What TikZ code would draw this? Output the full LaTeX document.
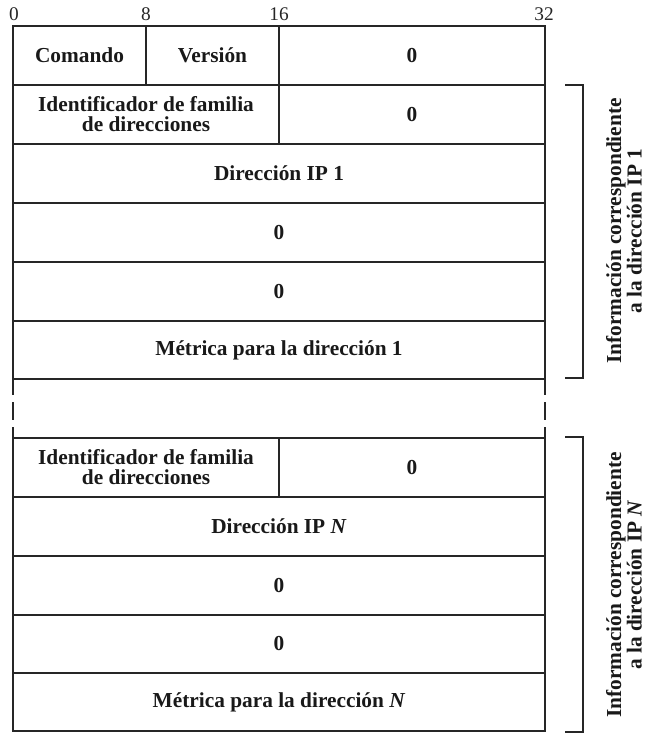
\documentclass[tikz,border=0pt]{standalone}
\usepackage{fontspec}
\setmainfont{Liberation Serif}
\begin{document}
\begin{tikzpicture}[x=0.75pt,y=-0.75pt,
  frame/.style={line width=1.3pt,draw=black!85},
  fieldtext/.style={font=\fontsize{16}{15}\selectfont\bfseries,text=black!90,align=center,inner sep=0pt},
  bitnum/.style={font=\fontsize{14.5}{15}\selectfont,text=black!85,anchor=base,inner sep=0pt},
  sidelabel/.style={font=\fontsize{16}{15.5}\selectfont\bfseries,text=black!90,align=center,rotate=90,inner sep=0pt}]
\useasboundingbox (0,0) rectangle (652,739);
% bit positions
\node[bitnum] (b0) at (14,20) {0};
\node[bitnum] (b8) at (146,20) {8};
\node[bitnum] (b16) at (279,20) {16};
\node[bitnum] (b32) at (544,20) {32};
% section 1 frame
\draw[frame] (13,26) rectangle (545,379);
\foreach \y in {85,144,203,262,321} \draw[frame] (13,\y) -- (545,\y);
\draw[frame] (146,26) -- (146,85);
\draw[frame] (279,26) -- (279,144);
% dashed continuation
\foreach \x in {13,545} {
  \draw[frame] (\x,379) -- (\x,395);
  \draw[frame] (\x,402) -- (\x,420);
  \draw[frame] (\x,427) -- (\x,438);
}
% section 2 frame
\draw[frame] (13,438) rectangle (545,731);
\foreach \y in {497,556,615,673} \draw[frame] (13,\y) -- (545,\y);
\draw[frame] (279,438) -- (279,497);
% section 1 texts
\node[fieldtext] (cmd) at (79.5,55.5) {Comando};
\node[fieldtext] (ver) at (212.5,55.5) {Versión};
\node[fieldtext] (z1) at (412,55.5) {0};
\node[fieldtext] (fam1) at (146,114.5) {Identificador de familia\\de direcciones};
\node[fieldtext] (z2) at (412,114.5) {0};
\node[fieldtext] (ip1) at (279,173.5) {Dirección IP 1};
\node[fieldtext] (z3) at (279,232.5) {0};
\node[fieldtext] (z4) at (279,291.5) {0};
\node[fieldtext] (met1) at (279,350) {Métrica para la dirección 1};
% section 2 texts
\node[fieldtext] (famN) at (146,467.5) {Identificador de familia\\de direcciones};
\node[fieldtext] (z5) at (412,467.5) {0};
\node[fieldtext] (ipN) at (279,526.5) {Dirección IP \textit{N}};
\node[fieldtext] (z6) at (279,585.5) {0};
\node[fieldtext] (z7) at (279,644) {0};
\node[fieldtext] (metN) at (279,702) {Métrica para la dirección \textit{N}};
% brackets
\draw[frame] (565,85) -- (583,85) -- (583,378) -- (565,378);
\draw[frame] (565,437) -- (583,437) -- (583,732) -- (565,732);
\node[sidelabel] (lab1) at (624,231) {Información correspondiente\\a la dirección IP 1};
\node[sidelabel] (labN) at (624,585) {Información correspondiente\\a la dirección IP \textit{N}};
\end{tikzpicture}
\end{document}
